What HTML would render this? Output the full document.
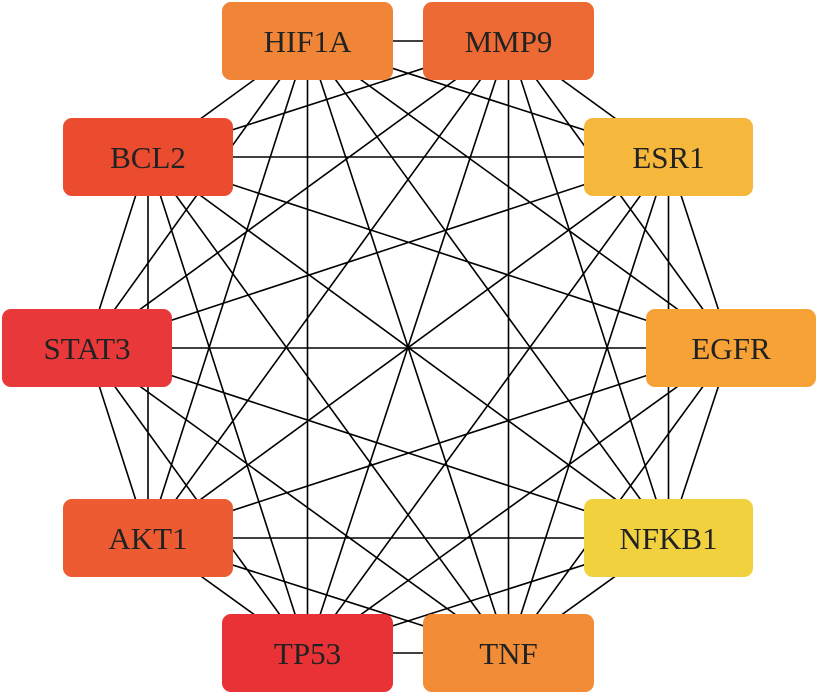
<!DOCTYPE html>
<html><head><meta charset="utf-8"><style>
html,body{margin:0;padding:0;background:#fff;}
svg{display:block}
text{font-family:"Liberation Serif",serif;font-size:31px;fill:#222;text-anchor:middle;}
</style></head><body>
<svg width="817" height="695" viewBox="0 0 817 695" xmlns="http://www.w3.org/2000/svg">
<path fill="none" stroke="#000" stroke-width="1.6" d="
M307.5 41L508.5 41 M307.5 41L148 157 M307.5 41L668.5 157 M307.5 41L87 348 M307.5 41L731 348 M307.5 41L148 538 M307.5 41L668.5 538 M307.5 41L307.5 653 M307.5 41L508.5 653
M508.5 41L148 157 M508.5 41L668.5 157 M508.5 41L87 348 M508.5 41L731 348 M508.5 41L148 538 M508.5 41L668.5 538 M508.5 41L307.5 653 M508.5 41L508.5 653
M148 157L668.5 157 M148 157L87 348 M148 157L731 348 M148 157L148 538 M148 157L668.5 538 M148 157L307.5 653 M148 157L508.5 653
M668.5 157L87 348 M668.5 157L731 348 M668.5 157L148 538 M668.5 157L668.5 538 M668.5 157L307.5 653 M668.5 157L508.5 653
M87 348L731 348 M87 348L148 538 M87 348L668.5 538 M87 348L307.5 653 M87 348L508.5 653
M731 348L148 538 M731 348L668.5 538 M731 348L307.5 653 M731 348L508.5 653
M148 538L668.5 538 M148 538L307.5 653 M148 538L508.5 653
M668.5 538L307.5 653 M668.5 538L508.5 653
M307.5 653L508.5 653"/>
<rect x="222" y="2" width="171" height="78" rx="9" fill="#F08437"/><text x="307.5" y="52">HIF1A</text>
<rect x="423" y="2" width="171" height="78" rx="9" fill="#EE6A34"/><text x="508.5" y="52">MMP9</text>
<rect x="63" y="118" width="170" height="78" rx="9" fill="#EB4B2F"/><text x="148" y="168">BCL2</text>
<rect x="584" y="118" width="169" height="78" rx="9" fill="#F5B83D"/><text x="668.5" y="168">ESR1</text>
<rect x="2" y="309" width="170" height="78" rx="9" fill="#E8383A"/><text x="87" y="359">STAT3</text>
<rect x="646" y="309" width="170" height="78" rx="9" fill="#F7A236"/><text x="731" y="359">EGFR</text>
<rect x="63" y="499" width="170" height="78" rx="9" fill="#EC5B31"/><text x="148" y="549">AKT1</text>
<rect x="584" y="499" width="169" height="78" rx="9" fill="#F2D13F"/><text x="668.5" y="549">NFKB1</text>
<rect x="222" y="614" width="171" height="78" rx="9" fill="#E83236"/><text x="307.5" y="664">TP53</text>
<rect x="423" y="614" width="171" height="78" rx="9" fill="#F28C36"/><text x="508.5" y="664">TNF</text>
</svg>
</body></html>
